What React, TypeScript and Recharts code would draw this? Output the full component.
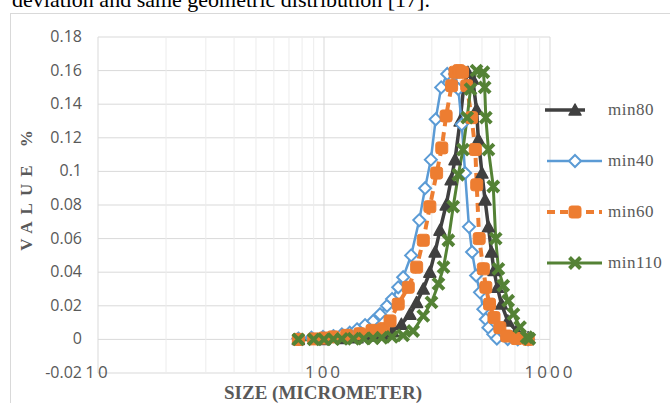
import React from "react";
import { LineChart, Line, XAxis, YAxis, CartesianGrid, ReferenceLine } from "recharts";

// particle size (micrometer) and value %
const min80Size = [77, 100, 120, 140, 160, 180, 200, 220, 240, 257, 275, 294, 310, 326, 347, 365, 380, 400, 415, 433, 455, 473, 482, 500, 516, 534, 551, 565, 585, 610, 650, 710, 800];
const min80Value = [0, 0, 0.0005, 0.001, 0.002, 0.003, 0.005, 0.009, 0.015, 0.022, 0.03, 0.04, 0.052, 0.065, 0.08, 0.095, 0.107, 0.13, 0.15, 0.159, 0.155, 0.137, 0.119, 0.099, 0.083, 0.067, 0.052, 0.041, 0.031, 0.021, 0.011, 0.005, 0.001];

const min40Size = [77, 88, 99, 110, 120, 130, 140, 152, 165, 177, 190, 200, 213, 224, 243, 264, 280, 297, 312, 330, 351, 380, 393, 407, 421, 438, 452, 471, 490, 507, 520, 534, 561, 582, 650, 720, 800];
const min40Value = [0.0005, 0.001, 0.0015, 0.002, 0.003, 0.004, 0.006, 0.0085, 0.011, 0.015, 0.02, 0.024, 0.031, 0.037, 0.05, 0.071, 0.09, 0.107, 0.131, 0.15, 0.158, 0.158, 0.149, 0.128, 0.099, 0.067, 0.052, 0.038, 0.028, 0.018, 0.012, 0.007, 0.003, 0.0005, 0.0002, 0.0001, 0];

const min60Size = [77, 90, 100, 110, 126, 144, 163, 183, 196, 213, 236, 257, 275, 294, 315, 332, 347, 367, 380, 395, 410, 428, 450, 467, 474, 486, 507, 520, 540, 565, 600, 643, 711, 801];
const min60Value = [0, 0.0003, 0.0008, 0.0015, 0.0024, 0.0034, 0.0054, 0.0064, 0.011, 0.021, 0.031, 0.043, 0.059, 0.079, 0.099, 0.114, 0.133, 0.151, 0.159, 0.16, 0.159, 0.151, 0.132, 0.113, 0.092, 0.06, 0.042, 0.031, 0.021, 0.013, 0.007, 0.002, 0.0005, 0];

const min110Size = [77, 90, 100, 110, 120, 135, 150, 165, 180, 200, 224, 248, 275, 299, 321, 338, 355, 373, 393, 412, 430, 445, 473, 507, 514, 520, 534, 561, 575, 591, 621, 653, 689, 737, 788, 810];
const min110Value = [0, 0, 0, 0.0002, 0.0003, 0.0004, 0.0005, 0.0007, 0.001, 0.0015, 0.0024, 0.005, 0.014, 0.022, 0.033, 0.043, 0.059, 0.079, 0.098, 0.113, 0.132, 0.149, 0.16, 0.159, 0.15, 0.132, 0.113, 0.091, 0.06, 0.042, 0.032, 0.023, 0.015, 0.0073, 0.0014, 0.0004];

const xTicks = [10, 100, 1000];
const minorX = [20, 30, 40, 50, 60, 70, 80, 90, 200, 300, 400, 500, 600, 700, 800, 900];
const yTicks = [-0.02, 0, 0.02, 0.04, 0.06, 0.08, 0.1, 0.12, 0.14, 0.16, 0.18];

const toRows = (sizes: number[], values: number[]) => sizes.map((s, i) => ({ s, v: values[i] }));

const GRAY = "#404040";
const BLUE = "#5b9bd5";
const ORANGE = "#ed7d31";
const GREEN = "#548235";

const triangle = (p: any) =>
  p.cx == null ? null : (
    <path key={"t" + p.index} d={`M${p.cx},${p.cy - 6} L${p.cx + 6},${p.cy + 5} L${p.cx - 6},${p.cy + 5} Z`} fill={GRAY} stroke={GRAY} strokeWidth={1.5} strokeLinejoin="round" />
  );
const diamond = (p: any) =>
  p.cx == null ? null : (
    <path key={"d" + p.index} d={`M${p.cx},${p.cy - 6} L${p.cx + 6},${p.cy} L${p.cx},${p.cy + 6} L${p.cx - 6},${p.cy} Z`} fill="#fff" stroke={BLUE} strokeWidth={2} />
  );
const square = (p: any) =>
  p.cx == null ? null : (
    <rect key={"s" + p.index} x={p.cx - 6} y={p.cy - 6} width={12} height={12} rx={2.5} fill={ORANGE} stroke={ORANGE} />
  );
const cross = (p: any) =>
  p.cx == null ? null : (
    <path key={"x" + p.index} d={`M${p.cx - 5.5},${p.cy - 5.5} L${p.cx + 5.5},${p.cy + 5.5} M${p.cx + 5.5},${p.cy - 5.5} L${p.cx - 5.5},${p.cy + 5.5}`} stroke={GREEN} strokeWidth={4} />
  );

const legendItems = [
  { name: "min80", color: GRAY, dash: undefined, width: 3.5, dot: triangle, y: 110 },
  { name: "min40", color: BLUE, dash: undefined, width: 2.5, dot: diamond, y: 161 },
  { name: "min60", color: ORANGE, dash: "8 5", width: 4, dot: square, y: 212 },
  { name: "min110", color: GREEN, dash: undefined, width: 3, dot: cross, y: 263 },
];

const yTick = (p: any) => (
  <text x={82} y={p.y} dy={5} textAnchor="end" fontSize={16} fontFamily="Open Sans" fill="#595959">
    {String(Number(p.payload.value.toFixed(2)))}
  </text>
);
const xTick = (p: any) => (
  <text x={p.x} y={p.y} dy={-3} textAnchor="middle" fontSize={17} fontFamily="Open Sans" letterSpacing={3} fill="#595959">
    {p.payload.value}
  </text>
);

export default function App() {
  return (
    <div style={{ position: "absolute", left: 0, top: 0, width: 670, height: 403, overflow: "hidden", background: "#fff" }}>
      <div style={{ position: "absolute", left: 12, top: -13, fontFamily: "Liberation Serif", fontSize: 22, whiteSpace: "nowrap", color: "#000" }}>
        deviation and same geometric distribution [17].
      </div>
      <div style={{ position: "absolute", left: 10, top: 13, width: 700, height: 430, border: "1px solid #d9d9d9" }} />
      <div style={{ position: "absolute", left: 0, top: 0 }}>
        <LineChart width={670} height={403} margin={{ top: 37, right: 120, bottom: 0, left: 0 }}>
          <CartesianGrid stroke="#d9d9d9" />
          {minorX.map((x) => (
            <ReferenceLine key={x} x={x} stroke="#ececec" />
          ))}
          <XAxis dataKey="s" type="number" scale="log" domain={[10, 1000]} ticks={xTicks} allowDataOverflow axisLine={false} tickLine={false} height={30} tick={xTick} />
          <YAxis type="number" domain={[-0.02, 0.18]} ticks={yTicks} width={98} axisLine={false} tickLine={false} tick={yTick} />
          <Line data={toRows(min80Size, min80Value)} dataKey="v" stroke={GRAY} strokeWidth={3.5} dot={triangle} isAnimationActive={false} />
          <Line data={toRows(min40Size, min40Value)} dataKey="v" stroke={BLUE} strokeWidth={2.5} dot={diamond} isAnimationActive={false} />
          <Line data={toRows(min60Size, min60Value)} dataKey="v" stroke={ORANGE} strokeWidth={4} strokeDasharray="9 6" dot={square} isAnimationActive={false} />
          <Line data={toRows(min110Size, min110Value)} dataKey="v" stroke={GREEN} strokeWidth={3} dot={cross} isAnimationActive={false} />
        </LineChart>
      </div>
      <div
        style={{
          position: "absolute",
          left: 27,
          top: 187,
          transform: "translate(-50%, -50%) rotate(-90deg)",
          fontFamily: "Liberation Serif",
          fontWeight: "bold",
          fontSize: 17,
          letterSpacing: 7,
          color: "#595959",
          whiteSpace: "nowrap",
        }}
      >
        VALUE %
      </div>
      <div
        style={{
          position: "absolute",
          left: 323,
          top: 393,
          transform: "translate(-50%, -50%)",
          fontFamily: "Liberation Serif",
          fontWeight: "bold",
          fontSize: 19,
          color: "#595959",
          whiteSpace: "nowrap",
        }}
      >
        SIZE (MICROMETER)
      </div>
      <svg style={{ position: "absolute", left: 0, top: 0 }} width={670} height={403}>
        {legendItems.map((it, i) => (
          <g key={it.name}>
            <line x1={i === 0 ? 545 : 547} x2={i === 0 ? 585 : 602} y1={it.y} y2={it.y} stroke={it.color} strokeWidth={it.width} strokeDasharray={it.dash} />
            {it.dot({ cx: 575, cy: it.y, index: i })}
            <text x={608} y={it.y} dy={5} fontFamily="Liberation Serif" fontSize={17} letterSpacing={0.5} fill="#595959">
              {it.name}
            </text>
          </g>
        ))}
      </svg>
    </div>
  );
}
